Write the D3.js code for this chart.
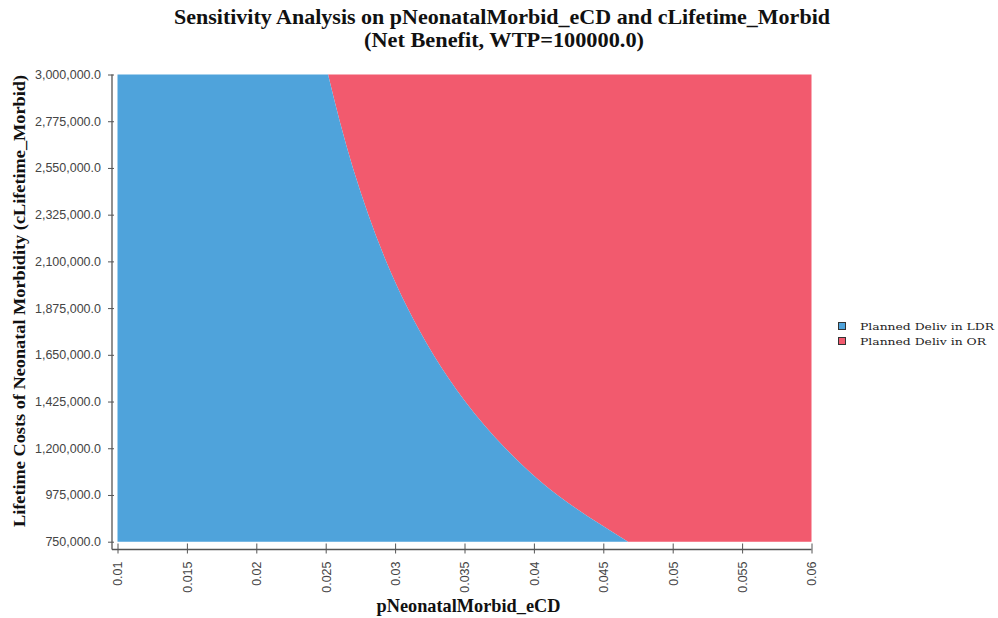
<!DOCTYPE html>
<html>
<head>
<meta charset="utf-8">
<script src="https://cdn.jsdelivr.net/npm/d3@7"></script>
<style>
  html, body { margin: 0; padding: 0; background: #fff; }
  svg { display: block; }
</style>
</head>
<body>
<svg id="chart" width="998" height="618"></svg>
<script>
// ---- data ----
const titleLines = ["Sensitivity Analysis on pNeonatalMorbid_eCD and cLifetime_Morbid", "(Net Benefit, WTP=100000.0)"];
const xLabel = "pNeonatalMorbid_eCD";
const yLabel = "Lifetime Costs of Neonatal Morbidity (cLifetime_Morbid)";
const xDomain = [0.01, 0.06];
const yDomain = [750000, 3000000];
const xTicks = [0.01, 0.015, 0.02, 0.025, 0.03, 0.035, 0.04, 0.045, 0.05, 0.055, 0.06];
const yTicks = [750000, 975000, 1200000, 1425000, 1650000, 1875000, 2100000, 2325000, 2550000, 2775000, 3000000];
// boundary: for each lifetime cost, the pNeonatalMorbid_eCD above which OR is preferred
const boundaryCost = [3000000, 2775000, 2550000, 2325000, 2100000, 1875000, 1650000, 1425000, 1200000, 975000, 750000];
const boundaryP    = [0.02517, 0.02601, 0.02696, 0.02807, 0.02936, 0.03090, 0.03276, 0.03505, 0.03794, 0.04169, 0.04678];
const strategies = ["Planned Deliv in LDR", "Planned Deliv in OR"];
const colors = ["#4fa3db", "#f25a6e"];

// ---- layout ----
const svg = d3.select("#chart");
const plot = { left: 117.5, right: 811.5, top: 74.5, bottom: 541.7 };
const x = d3.scaleLinear().domain(xDomain).range([plot.left, plot.right]);
const y = d3.scaleLinear().domain(yDomain).range([plot.bottom, plot.top]);

// regions
const pts = boundaryCost.map((c, i) => ({ c, p: boundaryP[i] }));
const blueArea = d3.area()
  .y(d => y(d.c))
  .x0(() => x(xDomain[0]))
  .x1(d => x(d.p))
  .curve(d3.curveMonotoneY);
const redArea = d3.area()
  .y(d => y(d.c))
  .x0(d => x(d.p))
  .x1(() => x(xDomain[1]))
  .curve(d3.curveMonotoneY);
svg.append("path").datum(pts).attr("d", redArea).attr("fill", colors[1]);
svg.append("path").datum(pts).attr("d", blueArea).attr("fill", colors[0]);

// axes
const axisColor = "#555";
const tickFont = "'Liberation Sans', Arial, sans-serif";
const xAxisY = 549.5, yAxisX = 112;

const fmtX = d => String(+d.toFixed(3));
const xAxis = svg.append("g").attr("transform", `translate(0,${xAxisY})`)
  .call(d3.axisBottom(x).tickValues(xTicks).tickFormat(fmtX).tickSizeOuter(0).tickSize(4));
xAxis.select(".domain").remove();
xAxis.selectAll(".tick line").attr("stroke", axisColor).attr("y1", -6).attr("y2", 4);
xAxis.selectAll(".tick text")
  .attr("font-family", tickFont).attr("font-size", 12.5).attr("fill", "#444")
  .attr("transform", "rotate(-90)")
  .attr("text-anchor", "end")
  .attr("x", -12).attr("y", 0).attr("dy", "0.35em");
svg.append("line").attr("x1", yAxisX).attr("x2", plot.right).attr("y1", xAxisY).attr("y2", xAxisY)
  .attr("stroke", axisColor).attr("stroke-width", 1.3);

const yAxis = svg.append("g").attr("transform", `translate(${yAxisX},0)`)
  .call(d3.axisLeft(y).tickValues(yTicks).tickFormat(d3.format(",.1f")).tickSizeOuter(0).tickSize(4));
yAxis.select(".domain").remove();
yAxis.selectAll(".tick line").attr("stroke", axisColor).attr("x1", 2).attr("x2", -4);
yAxis.selectAll(".tick text")
  .attr("font-family", tickFont).attr("font-size", 12.5).attr("fill", "#444")
  .attr("x", -11);
svg.append("line").attr("x1", yAxisX).attr("x2", yAxisX).attr("y1", plot.top).attr("y2", xAxisY)
  .attr("stroke", axisColor).attr("stroke-width", 1.3);

// titles
const serif = "'Liberation Serif', 'Times New Roman', serif";
svg.append("text").attr("x", 502).attr("y", 24).attr("text-anchor", "middle")
  .attr("font-family", serif).attr("font-weight", "bold").attr("font-size", 21)
  .attr("textLength", 656).attr("lengthAdjust", "spacingAndGlyphs").attr("fill", "#111")
  .text(titleLines[0]);
svg.append("text").attr("x", 504).attr("y", 47).attr("text-anchor", "middle")
  .attr("font-family", serif).attr("font-weight", "bold").attr("font-size", 21)
  .attr("textLength", 280).attr("lengthAdjust", "spacingAndGlyphs").attr("fill", "#111")
  .text(titleLines[1]);

svg.append("text").attr("x", 468.5).attr("y", 612).attr("text-anchor", "middle")
  .attr("font-family", serif).attr("font-weight", "bold").attr("font-size", 19)
  .attr("textLength", 184).attr("lengthAdjust", "spacingAndGlyphs").attr("fill", "#111")
  .text(xLabel);

svg.append("text").attr("transform", "translate(25,301) rotate(-90)").attr("text-anchor", "middle")
  .attr("font-family", serif).attr("font-weight", "bold").attr("font-size", 17)
  .attr("textLength", 452).attr("lengthAdjust", "spacingAndGlyphs").attr("fill", "#111")
  .text(yLabel);

// legend
const legendFont = "'DejaVu Serif', serif";
const legendRows = [{ sy: 322, ty: 330, w: 134 }, { sy: 337, ty: 344.5, w: 126 }];
strategies.forEach((s, i) => {
  const r = legendRows[i];
  svg.append("rect").attr("x", 838.5).attr("y", r.sy + 0.5).attr("width", 7).attr("height", 7)
    .attr("fill", colors[i]).attr("stroke", "#333").attr("stroke-width", 1);
  svg.append("text").attr("x", 860).attr("y", r.ty)
    .attr("font-family", legendFont).attr("font-size", 10).attr("fill", "#222")
    .attr("textLength", r.w).attr("lengthAdjust", "spacingAndGlyphs")
    .text(s);
});
</script>
</body>
</html>
